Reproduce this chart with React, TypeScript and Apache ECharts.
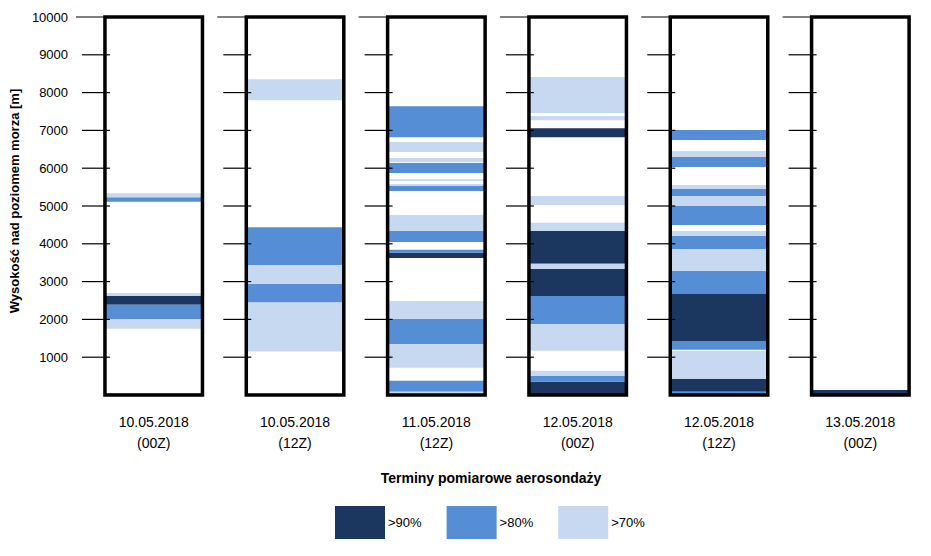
import React, { useEffect, useRef } from "react";
import * as echarts from "echarts";

const categories = [
  "10.05.2018\n(00Z)",
  "10.05.2018\n(12Z)",
  "11.05.2018\n(12Z)",
  "12.05.2018\n(00Z)",
  "12.05.2018\n(12Z)",
  "13.05.2018\n(00Z)",
];

const tickValues = [1000, 2000, 3000, 4000, 5000, 6000, 7000, 8000, 9000, 10000];

// [category index, bottom (m), top (m)]
const dark90 = [
  [0, 2390, 2620],
  [2, 3625, 3760],
  [3, 6820, 7060],
  [3, 3470, 4340],
  [3, 2620, 3335],
  [3, 0, 350],
  [4, 1430, 2675],
  [4, 85, 430],
  [5, 0, 135],
];

const medium80 = [
  [0, 5110, 5230],
  [0, 2010, 2390],
  [0, 0, 40],
  [1, 3440, 4440],
  [1, 2445, 2940],
  [2, 6820, 7640],
  [2, 5870, 6140],
  [2, 5400, 5530],
  [2, 4050, 4340],
  [2, 3760, 3840],
  [2, 1350, 2010],
  [2, 85, 375],
  [3, 1880, 2620],
  [3, 350, 510],
  [4, 6745, 7010],
  [4, 6030, 6295],
  [4, 5265, 5450],
  [4, 4500, 5000],
  [4, 3865, 4205],
  [4, 2675, 3280],
  [4, 1195, 1430],
  [4, 0, 85],
];

const light70 = [
  [0, 5230, 5340],
  [0, 2620, 2700],
  [0, 1750, 2010],
  [1, 7800, 8350],
  [1, 2940, 3440],
  [1, 1150, 2445],
  [2, 6430, 6690],
  [2, 6160, 6270],
  [2, 5660, 5710],
  [2, 5530, 5580],
  [2, 4340, 4760],
  [2, 2010, 2490],
  [2, 720, 1350],
  [2, 0, 85],
  [3, 7460, 8410],
  [3, 7270, 7380],
  [3, 5025, 5265],
  [3, 4340, 4555],
  [3, 3335, 3470],
  [3, 1170, 1880],
  [3, 510, 640],
  [4, 6295, 6455],
  [4, 5450, 5555],
  [4, 5000, 5265],
  [4, 4205, 4340],
  [4, 3280, 3865],
  [4, 430, 1170],
];

const BOX_FRAC = 0.69;
const FONT = "'Liberation Sans', Arial, sans-serif";

function bandRender(params: any, api: any) {
  const ci = api.value(0);
  const top = api.coord([ci, api.value(2)]);
  const bottom = api.coord([ci, api.value(1)]);
  const bw = api.size([1, 0])[0] * BOX_FRAC;
  return {
    type: "rect",
    shape: { x: top[0] - bw / 2, y: top[1], width: bw, height: bottom[1] - top[1] },
    style: { fill: api.visual("color") },
  };
}

export default function App() {
  const ref = useRef<HTMLDivElement>(null);
  useEffect(() => {
    if (!ref.current) return;
    const chart = echarts.init(ref.current, null, { renderer: "svg" });
    const frameData = categories.map((_, i) => [i, 0, 10000]);
    const tickData: number[][] = [];
    categories.forEach((_, i) => tickValues.forEach((v) => tickData.push([i, v])));
    const bandSeries = (name: string, color: string, data: number[][]) => ({
      type: "custom",
      name,
      data,
      encode: { x: 0, y: [1, 2] },
      itemStyle: { color },
      renderItem: bandRender,
      z: 2,
      silent: true,
    });
    chart.setOption({
      animation: false,
      grid: { left: 82.8, top: 17, width: 854.4, height: 378 },
      legend: {
        data: [">90%", ">80%", ">70%"],
        left: 335,
        top: 506,
        padding: 0,
        itemWidth: 50,
        itemHeight: 33,
        itemGap: 25,
        icon: "rect",
        textStyle: { fontFamily: FONT, fontSize: 13, color: "#000", padding: [0, 0, 0, -2] },
        selectedMode: false,
      },
      xAxis: {
        type: "category",
        data: categories,
        axisLine: { show: false },
        axisTick: { show: false },
        axisLabel: {
          margin: 16,
          fontFamily: FONT,
          fontSize: 14,
          lineHeight: 21,
          color: "#000",
        },
        name: "Terminy pomiarowe aerosondaży",
        nameLocation: "middle",
        nameGap: 76,
        nameTextStyle: {
          fontFamily: FONT,
          fontSize: 14,
          fontWeight: "bold",
          color: "#000",
          padding: [0, 32, 0, 0],
        },
      },
      yAxis: {
        type: "value",
        min: 0,
        max: 10000,
        interval: 1000,
        splitLine: { show: false },
        axisLine: { show: false },
        axisTick: { show: false },
        axisLabel: {
          margin: 15,
          fontFamily: FONT,
          fontSize: 13,
          color: "#000",
          formatter: (v: number) => (v === 0 ? "" : String(v)),
        },
        name: "Wysokość nad poziomem morza [m]",
        nameLocation: "middle",
        nameGap: 58,
        nameTextStyle: {
          fontFamily: FONT,
          fontSize: 13,
          fontWeight: "bold",
          color: "#000",
          padding: [0, 0, 0, 10],
        },
      },
      series: [
        bandSeries(">90%", "#1B3760", dark90),
        bandSeries(">80%", "#558ED5", medium80),
        bandSeries(">70%", "#C6D9F1", light70),
        {
          type: "custom",
          name: "ticks",
          data: tickData,
          encode: { x: 0, y: 1 },
          silent: true,
          z: 3,
          renderItem: (params: any, api: any) => {
            const ci = api.value(0);
            const v = api.value(1);
            const p = api.coord([ci, v]);
            const bw = api.size([1, 0])[0] * BOX_FRAC;
            const left = p[0] - bw / 2;
            const ext = v === 10000 ? 29 : 23;
            return {
              type: "line",
              shape: { x1: left - ext, y1: p[1], x2: left + 5, y2: p[1] },
              style: { stroke: "#000", lineWidth: 1.2 },
            };
          },
        },
        {
          type: "custom",
          name: "frame",
          data: frameData,
          encode: { x: 0, y: [1, 2] },
          silent: true,
          z: 4,
          renderItem: (params: any, api: any) => {
            const ci = api.value(0);
            const top = api.coord([ci, api.value(2)]);
            const bottom = api.coord([ci, api.value(1)]);
            const bw = api.size([1, 0])[0] * BOX_FRAC;
            return {
              type: "rect",
              shape: { x: top[0] - bw / 2, y: top[1], width: bw, height: bottom[1] - top[1] },
              style: { fill: "none", stroke: "#000", lineWidth: 3.5 },
            };
          },
        },
      ],
    });
    return () => chart.dispose();
  }, []);
  return (
    <div
      ref={ref}
      style={{ position: "fixed", left: 0, top: 0, width: 931, height: 556, background: "#fff" }}
    />
  );
}
